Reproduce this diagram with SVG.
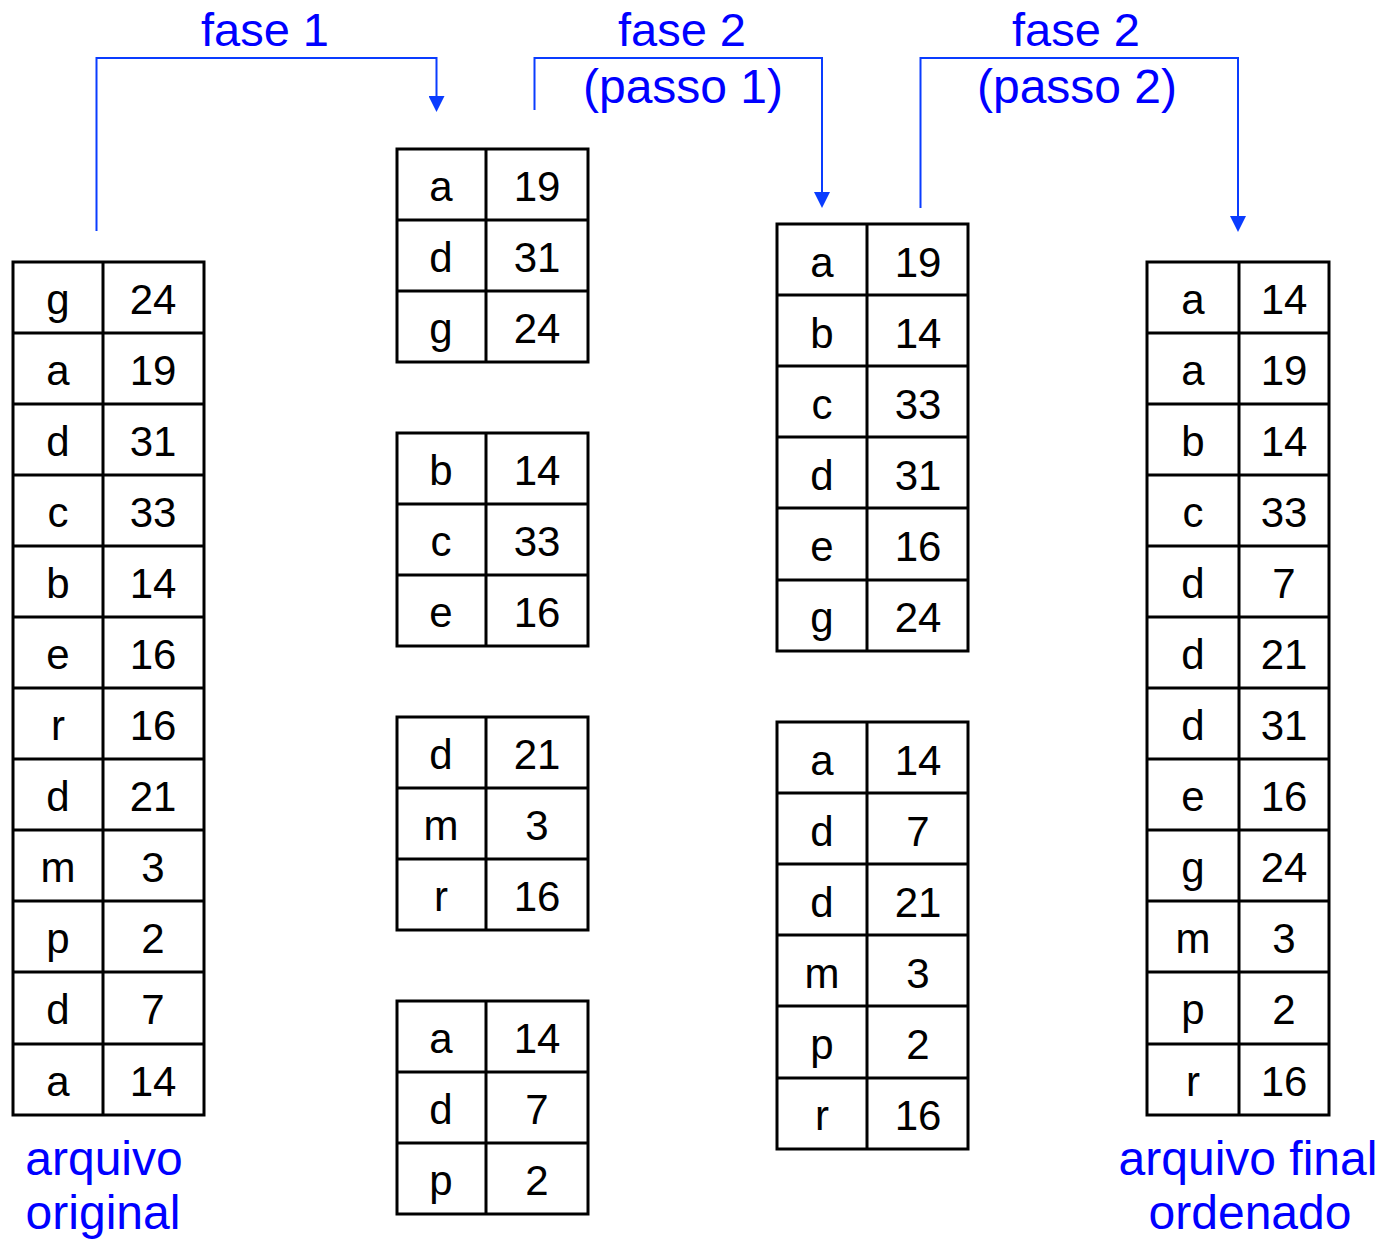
<svg xmlns="http://www.w3.org/2000/svg" width="1382" height="1242" viewBox="0 0 1382 1242">
<style>
.b{fill:none;stroke:#000;stroke-width:3}
.c{font-family:"Liberation Sans",Arial,sans-serif;font-size:42px;fill:#000;text-anchor:middle}
.t{font-family:"Liberation Sans",Arial,sans-serif;font-size:48px;fill:#0000ff;text-anchor:middle}
.f{font-size:47px}
.k{fill:none;stroke:#0a3cff;stroke-width:2}
</style>
<defs>
<marker id="ah" viewBox="0 0 16 16" refX="0" refY="8" markerWidth="16" markerHeight="16" markerUnits="userSpaceOnUse" orient="auto">
<path d="M0,0 L16,8 L0,16 z" fill="#0a3cff"/>
</marker>
</defs>
<rect width="1382" height="1242" fill="#fff"/>
<g id="connectors">
<path class="k" d="M96.5,231 V58 H436.5 V96" marker-end="url(#ah)"/>
<path class="k" d="M534.5,110 V58 H822 V192" marker-end="url(#ah)"/>
<path class="k" d="M920.5,208 V58 H1238 V216" marker-end="url(#ah)"/>
</g>
<g id="labels">
<text class="t f" x="265" y="46">fase 1</text>
<text class="t f" x="682" y="46">fase 2</text>
<text class="t" x="683" y="103">(passo 1)</text>
<text class="t f" x="1076" y="46">fase 2</text>
<text class="t" x="1077" y="103">(passo 2)</text>
<text class="t" x="104" y="1175">arquivo</text>
<text class="t" x="103" y="1229">original</text>
<text class="t" x="1248" y="1175">arquivo final</text>
<text class="t" x="1250" y="1229">ordenado</text>
</g>
<g id="original">
<rect class="b" x="13" y="262" width="191" height="853"/>
<path class="b" d="M103,262 V1115 M13,333 H204 M13,404 H204 M13,475 H204 M13,546 H204 M13,617 H204 M13,688 H204 M13,759 H204 M13,830 H204 M13,901 H204 M13,972 H204 M13,1044 H204"/>
<g class="c">
<text x="58" y="314">g</text><text x="153" y="314">24</text>
<text x="58" y="385">a</text><text x="153" y="385">19</text>
<text x="58" y="456">d</text><text x="153" y="456">31</text>
<text x="58" y="527">c</text><text x="153" y="527">33</text>
<text x="58" y="598">b</text><text x="153" y="598">14</text>
<text x="58" y="669">e</text><text x="153" y="669">16</text>
<text x="58" y="740">r</text><text x="153" y="740">16</text>
<text x="58" y="811">d</text><text x="153" y="811">21</text>
<text x="58" y="882">m</text><text x="153" y="882">3</text>
<text x="58" y="953">p</text><text x="153" y="953">2</text>
<text x="58" y="1024">d</text><text x="153" y="1024">7</text>
<text x="58" y="1096">a</text><text x="153" y="1096">14</text>
</g>
</g>
<g id="run1">
<rect class="b" x="397" y="149" width="191" height="213"/>
<path class="b" d="M486,149 V362 M397,220 H588 M397,291 H588"/>
<g class="c">
<text x="441" y="201">a</text><text x="537" y="201">19</text>
<text x="441" y="272">d</text><text x="537" y="272">31</text>
<text x="441" y="343">g</text><text x="537" y="343">24</text>
</g>
</g>
<g id="run2">
<rect class="b" x="397" y="433" width="191" height="213"/>
<path class="b" d="M486,433 V646 M397,504 H588 M397,575 H588"/>
<g class="c">
<text x="441" y="485">b</text><text x="537" y="485">14</text>
<text x="441" y="556">c</text><text x="537" y="556">33</text>
<text x="441" y="627">e</text><text x="537" y="627">16</text>
</g>
</g>
<g id="run3">
<rect class="b" x="397" y="717" width="191" height="213"/>
<path class="b" d="M486,717 V930 M397,788 H588 M397,859 H588"/>
<g class="c">
<text x="441" y="769">d</text><text x="537" y="769">21</text>
<text x="441" y="840">m</text><text x="537" y="840">3</text>
<text x="441" y="911">r</text><text x="537" y="911">16</text>
</g>
</g>
<g id="run4">
<rect class="b" x="397" y="1001" width="191" height="213"/>
<path class="b" d="M486,1001 V1214 M397,1072 H588 M397,1143 H588"/>
<g class="c">
<text x="441" y="1053">a</text><text x="537" y="1053">14</text>
<text x="441" y="1124">d</text><text x="537" y="1124">7</text>
<text x="441" y="1195">p</text><text x="537" y="1195">2</text>
</g>
</g>
<g id="merge1">
<rect class="b" x="777" y="224" width="191" height="427"/>
<path class="b" d="M867,224 V651 M777,295 H968 M777,366 H968 M777,437 H968 M777,508 H968 M777,580 H968"/>
<g class="c">
<text x="822" y="277">a</text><text x="918" y="277">19</text>
<text x="822" y="348">b</text><text x="918" y="348">14</text>
<text x="822" y="419">c</text><text x="918" y="419">33</text>
<text x="822" y="490">d</text><text x="918" y="490">31</text>
<text x="822" y="561">e</text><text x="918" y="561">16</text>
<text x="822" y="632">g</text><text x="918" y="632">24</text>
</g>
</g>
<g id="merge2">
<rect class="b" x="777" y="722" width="191" height="427"/>
<path class="b" d="M867,722 V1149 M777,793 H968 M777,864 H968 M777,935 H968 M777,1006 H968 M777,1078 H968"/>
<g class="c">
<text x="822" y="775">a</text><text x="918" y="775">14</text>
<text x="822" y="846">d</text><text x="918" y="846">7</text>
<text x="822" y="917">d</text><text x="918" y="917">21</text>
<text x="822" y="988">m</text><text x="918" y="988">3</text>
<text x="822" y="1059">p</text><text x="918" y="1059">2</text>
<text x="822" y="1130">r</text><text x="918" y="1130">16</text>
</g>
</g>
<g id="final">
<rect class="b" x="1147" y="262" width="182" height="853"/>
<path class="b" d="M1239,262 V1115 M1147,333 H1329 M1147,404 H1329 M1147,475 H1329 M1147,546 H1329 M1147,617 H1329 M1147,688 H1329 M1147,759 H1329 M1147,830 H1329 M1147,901 H1329 M1147,972 H1329 M1147,1044 H1329"/>
<g class="c">
<text x="1193" y="314">a</text><text x="1284" y="314">14</text>
<text x="1193" y="385">a</text><text x="1284" y="385">19</text>
<text x="1193" y="456">b</text><text x="1284" y="456">14</text>
<text x="1193" y="527">c</text><text x="1284" y="527">33</text>
<text x="1193" y="598">d</text><text x="1284" y="598">7</text>
<text x="1193" y="669">d</text><text x="1284" y="669">21</text>
<text x="1193" y="740">d</text><text x="1284" y="740">31</text>
<text x="1193" y="811">e</text><text x="1284" y="811">16</text>
<text x="1193" y="882">g</text><text x="1284" y="882">24</text>
<text x="1193" y="953">m</text><text x="1284" y="953">3</text>
<text x="1193" y="1024">p</text><text x="1284" y="1024">2</text>
<text x="1193" y="1096">r</text><text x="1284" y="1096">16</text>
</g>
</g>
</svg>
